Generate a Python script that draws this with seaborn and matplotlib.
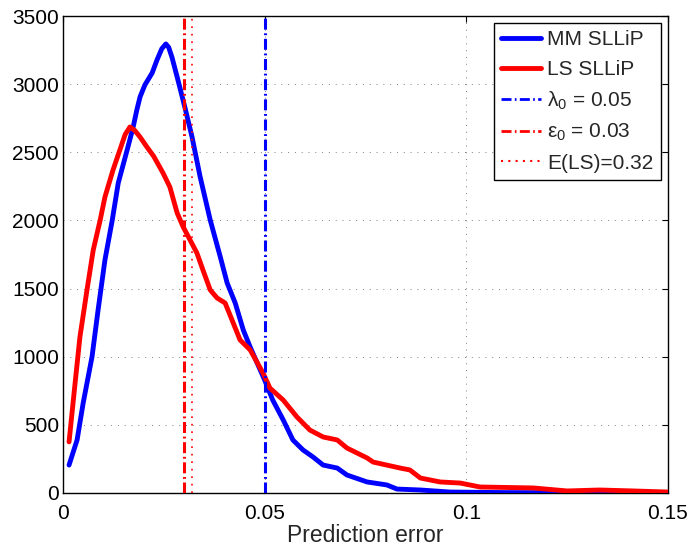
import numpy as np
import pandas as pd
import matplotlib
matplotlib.use("Agg")
import matplotlib.pyplot as plt
from matplotlib.lines import Line2D
import seaborn as sns

# ---- data ----
mm_x = [0.0015, 0.0035, 0.0050, 0.0072, 0.0087, 0.0104, 0.0122, 0.0137, 0.0161,
        0.0174, 0.0183, 0.0191, 0.0203, 0.0221, 0.0233, 0.0245, 0.0255, 0.0262,
        0.0270, 0.0285, 0.0302, 0.0320, 0.0340, 0.0365, 0.0390, 0.0407, 0.0427,
        0.0447, 0.0464, 0.0500, 0.0520, 0.0546, 0.0570, 0.0595, 0.0620, 0.0645,
        0.0680, 0.0704, 0.0754, 0.0803, 0.0828, 0.0886, 0.0960, 0.1100, 0.1300,
        0.1500]
mm_y = [205, 390, 660, 1000, 1343, 1710, 2000, 2275, 2539,
        2686, 2810, 2906, 2994, 3082, 3177, 3260, 3295, 3270,
        3199, 3030, 2832, 2612, 2320, 2003, 1732, 1541, 1394,
        1196, 1071, 829, 682, 536, 389, 316, 264, 205,
        183, 132, 81, 59, 29, 22, 7, 3, 2,
        1]

ls_x = [0.0015, 0.0030, 0.0042, 0.0060, 0.0075, 0.0092, 0.0104, 0.0124, 0.0141,
        0.0154, 0.0166, 0.0178, 0.0191, 0.0208, 0.0225, 0.0248, 0.0265, 0.0283,
        0.0298, 0.0315, 0.0332, 0.0347, 0.0365, 0.0382, 0.0402, 0.0419, 0.0439,
        0.0464, 0.0496, 0.0513, 0.0546, 0.0580, 0.0612, 0.0645, 0.0680, 0.0704,
        0.0754, 0.0769, 0.0836, 0.0860, 0.0886, 0.0935, 0.0985, 0.1034, 0.1166,
        0.1250, 0.1330, 0.1414, 0.1500]
ls_y = [375, 807, 1145, 1500, 1783, 2000, 2172, 2370, 2517,
        2630, 2686, 2660, 2612, 2539, 2470, 2348, 2245, 2055,
        1952, 1857, 1761, 1636, 1490, 1431, 1394, 1270, 1123,
        1050, 880, 770, 682, 558, 462, 411, 389, 330,
        257, 227, 183, 169, 110, 81, 73, 44, 37,
        15, 22, 15, 7]

series_names = ["MM SLLiP", "LS SLLiP"]
lambda0 = 0.05
eps0 = 0.03
e_ls = 0.032
ref_labels = ["λ$_0$ = 0.05", "ε$_0$ = 0.03", "E(LS)=0.32"]
x_ticks = [0, 0.05, 0.1, 0.15]
x_tick_labels = ["0", "0.05", "0.1", "0.15"]
y_ticks = [0, 500, 1000, 1500, 2000, 2500, 3000, 3500]

# ---- style ----
sns.set_style("white")
plt.rcParams["font.family"] = ["Liberation Sans", "DejaVu Sans"]
plt.rcParams["mathtext.fontset"] = "custom"
plt.rcParams["mathtext.rm"] = "Liberation Sans"
plt.rcParams["mathtext.it"] = "Liberation Sans"

fig = plt.figure(figsize=(6.88, 5.47), dpi=100)
ax = fig.add_axes([63 / 688, 1 - 493 / 547, 605 / 688, 477 / 547])

df = pd.concat([
    pd.DataFrame({"x": mm_x, "y": mm_y, "series": series_names[0]}),
    pd.DataFrame({"x": ls_x, "y": ls_y, "series": series_names[1]}),
])
colors = {series_names[0]: "#0000ff", series_names[1]: "#ff0000"}
sns.lineplot(data=df, x="x", y="y", hue="series", palette=colors,
             hue_order=series_names, estimator=None, sort=False,
             linewidth=3.5, legend=False, ax=ax, zorder=3)
for ln in ax.get_lines():
    ln.set_solid_joinstyle("round")
    ln.set_solid_capstyle("round")

dashdot = (0, (3.6, 1.2, 0.6, 1.2))
ax.axvline(lambda0, color="#0000ff", lw=2.2, linestyle=dashdot, zorder=4)
ax.axvline(eps0, color="#ff0000", lw=2.2, linestyle=dashdot, zorder=4)
ax.axvline(e_ls, color="#ff0000", lw=1.2, linestyle=(0, (1, 3.5)), zorder=4)

ax.set_xlim(0, 0.15)
ax.set_ylim(0, 3500)
ax.set_xticks(x_ticks)
ax.set_xticklabels(x_tick_labels)
ax.set_yticks(y_ticks)
ax.set_yticklabels([str(v) for v in y_ticks])
ax.grid(True, color="#808080", linestyle=(0, (1, 6)), linewidth=0.7)
ax.tick_params(axis="both", direction="in", length=4.5, width=0.8,
               top=True, right=True, labelsize=15, colors="black")
ax.tick_params(axis="x", pad=8)
ax.tick_params(axis="y", pad=3)
for s in ax.spines.values():
    s.set_color("black")
    s.set_linewidth(1.0)
ax.set_xlabel("Prediction error", fontsize=16.5, labelpad=0.5)
ax.set_ylabel("")

handles = [
    Line2D([], [], color="#0000ff", lw=3.5),
    Line2D([], [], color="#ff0000", lw=3.5),
    Line2D([], [], color="#0000ff", lw=2.0, linestyle=dashdot),
    Line2D([], [], color="#ff0000", lw=2.0, linestyle=dashdot),
    Line2D([], [], color="#ff0000", lw=1.5, linestyle=(0, (1, 2.5))),
]
leg = ax.legend(handles, series_names + ref_labels, loc="upper right",
                bbox_to_anchor=(0.988, 0.985), borderaxespad=0, fontsize=15,
                frameon=True, fancybox=False, edgecolor="black", framealpha=1,
                handlelength=1.9, handletextpad=0.3, labelspacing=0.5,
                borderpad=0.35)
leg.get_frame().set_linewidth(1.0)
leg.set_zorder(6)

fig.savefig("out.png", dpi=100)
